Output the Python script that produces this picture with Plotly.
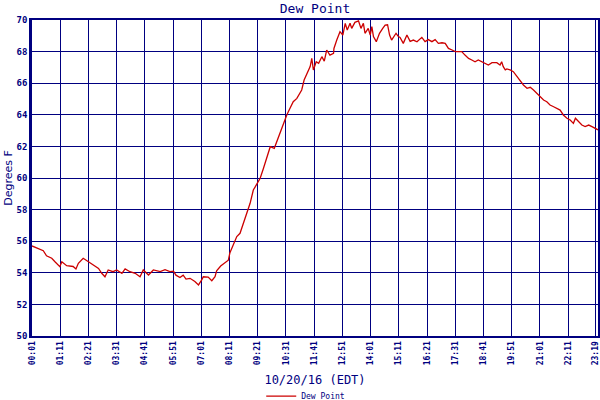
import plotly.graph_objects as go

# minutes since midnight (10/20/16, EDT) and dew point (deg F)
minutes = [1, 17, 29, 37, 50, 58, 70, 75, 87, 103, 110, 116, 128, 141, 153, 166, 174, 182, 190, 202,
           211, 224, 232, 244, 257, 269, 277, 290, 302, 314, 319, 331, 343, 352, 358, 368, 376, 383, 393, 405,
           414, 422, 426, 438, 447, 455, 459, 469, 480, 488, 492, 501, 509, 517, 525, 534, 542, 550, 559, 567,
           575, 583, 592, 602, 608, 616, 625, 633, 641, 649, 658, 666, 670, 676, 683, 691, 695, 699, 706, 712,
           720, 726, 732, 740, 749, 750, 757, 765, 772, 778, 783, 790, 794, 802, 811, 817, 823, 827, 835, 840,
           844, 848, 855, 863, 871, 877, 883, 888, 893, 898, 904, 910, 914, 922, 931, 939, 947, 956, 968, 976,
           984, 993, 1001, 1009, 1018, 1026, 1034, 1043, 1051, 1059, 1067, 1075, 1084, 1092, 1100, 1108, 1117, 1125, 1133, 1142,
           1154, 1162, 1166, 1170, 1175, 1179, 1187, 1195, 1204, 1212, 1220, 1229, 1237, 1245, 1253, 1262, 1270, 1278, 1286, 1295,
           1303, 1311, 1319, 1328, 1336, 1344, 1349, 1357, 1365, 1373, 1382, 1390, 1398, 1405]
dew_point = [55.70, 55.55, 55.40, 55.08, 54.92, 54.70, 54.39, 54.70, 54.45, 54.40, 54.24, 54.60, 54.92, 54.70, 54.50, 54.28, 53.97, 53.75, 54.18, 54.07,
             54.18, 53.97, 54.25, 54.07, 53.97, 53.75, 54.18, 53.86, 54.18, 54.10, 54.07, 54.20, 54.07, 54.10, 53.85, 53.70, 53.85, 53.60, 53.65, 53.45,
             53.23, 53.55, 53.75, 53.73, 53.50, 53.75, 54.13, 54.43, 54.64, 54.80, 55.27, 55.87, 56.29, 56.50, 57.13, 57.77, 58.40, 59.24, 59.64, 59.98,
             60.60, 61.25, 61.98, 61.88, 62.30, 62.93, 63.56, 63.99, 64.41, 64.83, 65.04, 65.36, 65.57, 66.20, 66.63, 67.05, 67.57, 66.84, 67.36, 67.26,
             67.68, 67.40, 68.10, 67.78, 67.89, 68.20, 68.73, 69.26, 69.05, 69.79, 69.37, 69.79, 69.47, 69.85, 69.94, 69.47, 69.79, 69.16, 69.47, 69.05,
             69.58, 68.95, 68.63, 69.16, 69.47, 69.68, 69.70, 69.05, 68.73, 68.95, 69.16, 68.95, 68.90, 68.52, 69.05, 68.65, 68.73, 68.62, 68.90, 68.63,
             68.76, 68.63, 68.76, 68.52, 68.56, 68.52, 68.20, 68.10, 68.00, 68.00, 68.00, 67.78, 67.57, 67.47, 67.36, 67.47, 67.36, 67.26, 67.15, 67.30,
             67.30, 67.15, 67.36, 67.05, 66.84, 66.90, 66.84, 66.73, 66.41, 66.10, 65.89, 65.68, 65.74, 65.57, 65.36, 65.15, 64.94, 64.83, 64.62, 64.51,
             64.41, 64.30, 63.99, 63.78, 63.67, 63.46, 63.78, 63.57, 63.35, 63.25, 63.35, 63.25, 63.15, 63.05]

tick_minutes = [1, 71, 141, 211, 281, 351, 421, 491, 561, 631, 701, 771, 841, 911, 981, 1051,
                1121, 1191, 1261, 1331, 1399]
tick_labels = ["00:01", "01:11", "02:21", "03:31", "04:41", "05:51", "07:01", "08:11", "09:21", "10:31",
               "11:41", "12:51", "14:01", "15:11", "16:21", "17:31", "18:41", "19:51", "21:01", "22:11",
               "23:19"]
y_ticks = [50, 52, 54, 56, 58, 60, 62, 64, 66, 68, 70]

NAVY = "#000080"
MONO = "DejaVu Sans Mono"

fig = go.Figure()
fig.add_trace(go.Scatter(x=minutes, y=dew_point, mode="lines", name="Dew Point",
                         line=dict(color="#CC0000", width=1.3)))

fig.update_layout(
    width=600, height=400,
    margin=dict(l=32, r=2, t=20, b=64, autoexpand=False),
    paper_bgcolor="white", plot_bgcolor="white",
    title=dict(text="Dew Point", x=0.525, xanchor="center", yref="container", y=0.99, yanchor="top",
               pad=dict(t=0, b=0),
               font=dict(family=MONO, size=13, color=NAVY)),
    showlegend=True,
    legend=dict(orientation="h", x=0.405, xanchor="left", y=-0.19, yanchor="middle",
                font=dict(family=MONO, size=8, color=NAVY), itemwidth=30,
                bgcolor="rgba(0,0,0,0)"),
    xaxis=dict(range=[1, 1405], tickmode="array", tickvals=tick_minutes, ticktext=tick_labels,
               tickangle=-90, tickfont=dict(family=MONO, size=8, color=NAVY, weight="bold"),
               ticklabeloverflow="allow",
               showgrid=True, gridcolor=NAVY, gridwidth=1.2, zeroline=False, automargin=False,
               showline=True, linecolor=NAVY, linewidth=2, mirror=True, ticks="",
               title=dict(text="10/20/16 (EDT)", font=dict(family=MONO, size=12, color=NAVY), standoff=11)),
    yaxis=dict(range=[50, 70], tickmode="array", tickvals=y_ticks, ticktext=[str(v) for v in y_ticks],
               tickfont=dict(family=MONO, size=9, color=NAVY, weight="bold"),
               showgrid=True, gridcolor=NAVY, gridwidth=1.2, zeroline=False, automargin=False,
               showline=True, linecolor=NAVY, linewidth=2.5, mirror=True, ticks="",
               title=dict(text="Degrees F", font=dict(family="DejaVu Sans", size=11, color=NAVY), standoff=2)),
)

fig.write_html("out.html", config={"responsive": False, "displayModeBar": False},
               post_script="document.body.style.margin='0';document.body.style.overflow='hidden';")
